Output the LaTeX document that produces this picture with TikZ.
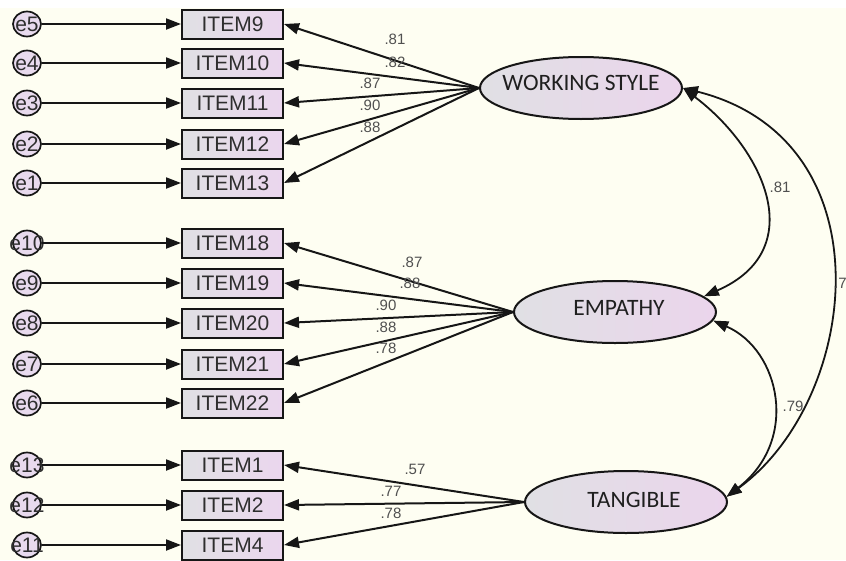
\documentclass[tikz,border=0pt]{standalone}
\usepackage{fontspec}
\setmainfont{Liberation Sans}
\newfontfamily\latfont{Carlito}
\usetikzlibrary{arrows.meta,shapes.geometric}
\definecolor{cream}{HTML}{FEFEF2}
\definecolor{lineC}{HTML}{161616}
\definecolor{boxL}{HTML}{E0E0E4}
\definecolor{boxR}{HTML}{EBD6EE}
\definecolor{latL}{HTML}{E0E0E4}
\definecolor{latR}{HTML}{EBD5EC}
\definecolor{errF}{HTML}{E8DAEE}
\definecolor{labC}{HTML}{505050}
\definecolor{txtC}{HTML}{2E2E2E}
\begin{document}
\begin{tikzpicture}[x=1pt,y=-1pt,
  itembox/.style={draw=lineC, line width=2pt, left color=boxL, right color=boxR, minimum width=101pt, minimum height=29pt, inner sep=0pt, font=\fontsize{21}{21}\selectfont, text=txtC},
  errnode/.style={ellipse, draw=lineC, line width=1.7pt, fill=errF, minimum width=28pt, minimum height=25pt, inner sep=0pt},
  errtext/.style={font=\fontsize{21}{21}\selectfont, text=txtC, inner sep=0pt},
  latnode/.style={ellipse, draw=lineC, line width=2pt, left color=latL, right color=latR, minimum width=202pt, minimum height=62pt, inner sep=0pt},
  lattext/.style={font=\latfont\fontsize{23.5}{23.5}\selectfont, text=black!88, inner sep=0pt},
  ld/.style={draw=lineC, line width=2pt, -{Triangle[length=15pt,width=11pt]}},
  cov/.style={draw=lineC, line width=1.8pt, {Triangle[length=15pt,width=11pt]}-{Triangle[length=15pt,width=11pt]}},
  coef/.style={font=\fontsize{15}{15}\selectfont, text=labC, inner sep=0pt},
]
\useasboundingbox (0,0) rectangle (846,560);
\fill[cream] (0,8) rectangle (846,560);
\fill[white] (0,0) rectangle (846,8);

% items
\foreach \n/\y in {9/24,10/63,11/103,12/144,13/183,18/243,19/283,20/323,21/364,22/403,1/465,2/505,4/545}{
  \node[itembox] (i\n) at (232.5,\y) {ITEM\n};
}
% errors
\foreach \e/\it/\y in {5/9/24,4/10/63,3/11/103,2/12/144,1/13/183,10/18/243,9/19/283,8/20/323,7/21/364,6/22/403,13/1/465,12/2/505,11/4/545}{
  \node[errnode, label={[errtext]center:e\e}] (e\e) at (27,\y) {};
  \draw[ld] (e\e) -- (i\it);
}

% latents
\node[latnode, label={[lattext,yshift=5pt]center:WORKING STYLE}] (ws) at (581,88) {};
\node[latnode, label={[lattext,xshift=4pt,yshift=4pt]center:EMPATHY}] (emp) at (615,312) {};
\node[latnode, label={[lattext,xshift=8pt,yshift=2pt]center:TANGIBLE}] (tang) at (626,502) {};

% loadings
\foreach \it in {9,10,11,12,13}{ \draw[ld] (ws.west) -- (i\it.east); }
\foreach \it in {18,19,20,21,22}{ \draw[ld] (emp.west) -- (i\it.east); }
\foreach \it in {1,2,4}{ \draw[ld] (tang.west) -- (i\it.east); }

\node[coef] (c9) at (395,39) {.81};
\node[coef] (c10) at (395,62) {.82};
\node[coef] (c11) at (370,83) {.87};
\node[coef] (c12) at (370,105) {.90};
\node[coef] (c13) at (370,127) {.88};

\node[coef] (c18) at (412,262) {.87};
\node[coef] (c19) at (410,283) {.88};
\node[coef] (c20) at (386,305) {.90};
\node[coef] (c21) at (386,327) {.88};
\node[coef] (c22) at (386,348) {.78};

\node[coef] (c1) at (415,469) {.57};
\node[coef] (c2) at (391,491) {.77};
\node[coef] (c4) at (391,513) {.78};

% covariances
\draw[cov] (ws.east) .. controls (765,150) and (810,250) .. (emp.10);
\draw[cov] (ws.east) .. controls (890,140) and (860,400) .. (tang.3);
\draw[cov] (emp.-5) .. controls (780,350) and (800,440) .. (tang.3);

\node[coef] (k1) at (780,187) {.81};
\node[coef] (k3) at (793,406) {.79};
\node[coef, anchor=west] (k2) at (834,283) {.7};
\end{tikzpicture}
\end{document}
